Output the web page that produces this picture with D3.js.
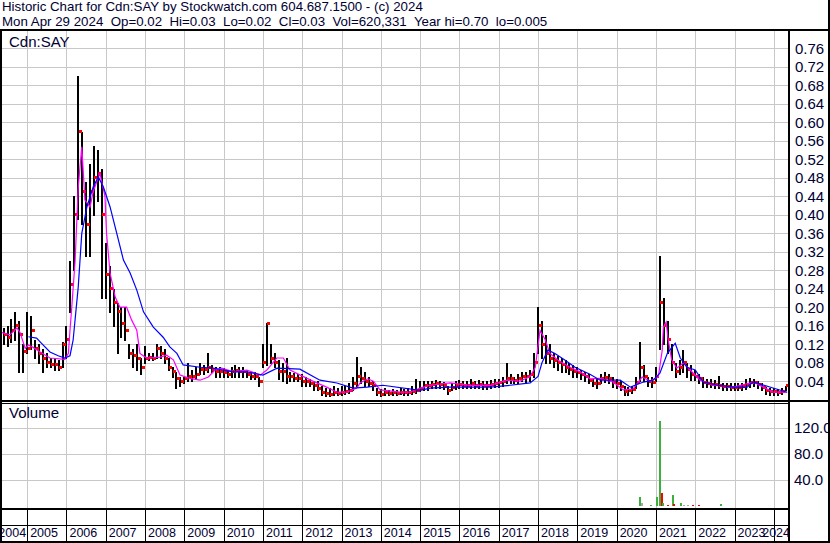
<!DOCTYPE html>
<html>
<head>
<meta charset="utf-8">
<script src="https://cdn.jsdelivr.net/npm/d3@7"></script>
<style>
body{margin:0;background:#fff}
svg{display:block}
text{fill:#000033}
.hdr{font-family:"Liberation Sans",Arial,sans-serif;font-size:13.3px;white-space:pre}
.lbl{font-family:"Liberation Sans Narrow","Arial Narrow","Liberation Sans",sans-serif}
</style>
</head>
<body>
<script>
// chart text
const title1 = "Historic Chart for Cdn:SAY by Stockwatch.com 604.687.1500 - (c) 2024";
const title2 = "Mon Apr 29 2024  Op=0.02  Hi=0.03  Lo=0.02  Cl=0.03  Vol=620,331  Year hi=0.70  lo=0.005";
const symbol = "Cdn:SAY";

// axis ticks
const priceTicks = [0.04,0.08,0.12,0.16,0.20,0.24,0.28,0.32,0.36,0.40,0.44,0.48,0.52,0.56,0.60,0.64,0.68,0.72,0.76];
const volTicks = [40,80,120];           // millions
const volTickLabels = ["40.0 M","80.0 M","120.0 M"];
const years = [2004,2005,2006,2007,2008,2009,2010,2011,2012,2013,2014,2015,2016,2017,2018,2019,2020,2021,2022,2023,2024];

// price samples (decimal year, high, low, close)
const sampleYears = [
  2004.4,2004.5,2004.6,2004.7,2004.8,2004.9,
  2005.0,2005.1,2005.2,2005.3,2005.4,2005.5,2005.6,2005.7,2005.8,2005.9,
  2006.0,2006.1,2006.2,2006.3,2006.4,2006.5,2006.6,2006.7,2006.8,2006.9,
  2007.0,2007.1,2007.2,2007.3,2007.4,2007.5,2007.6,2007.7,2007.8,2007.9,
  2008.0,2008.1,2008.2,2008.3,2008.4,2008.5,2008.6,2008.7,2008.8,2008.9,
  2009.0,2009.1,2009.2,2009.3,2009.4,2009.5,2009.6,2009.7,2009.8,2009.9,
  2010.0,2010.1,2010.2,2010.3,2010.4,2010.5,2010.6,2010.7,2010.8,2010.9,
  2011.0,2011.1,2011.2,2011.3,2011.4,2011.5,2011.6,2011.7,2011.8,2011.9,
  2012.0,2012.1,2012.2,2012.3,2012.4,2012.5,2012.6,2012.7,2012.8,2012.9,
  2013.0,2013.1,2013.2,2013.3,2013.4,2013.5,2013.6,2013.7,2013.8,2013.9,
  2014.0,2014.1,2014.2,2014.3,2014.4,2014.5,2014.6,2014.7,2014.8,2014.9,
  2015.0,2015.1,2015.2,2015.3,2015.4,2015.5,2015.6,2015.7,2015.8,2015.9,
  2016.0,2016.1,2016.2,2016.3,2016.4,2016.5,2016.6,2016.7,2016.8,2016.9,
  2017.0,2017.1,2017.2,2017.3,2017.4,2017.5,2017.6,2017.7,2017.8,2017.9,
  2018.0,2018.1,2018.2,2018.3,2018.4,2018.5,2018.6,2018.7,2018.8,2018.9,
  2019.0,2019.1,2019.2,2019.3,2019.4,2019.5,2019.6,2019.7,2019.8,2019.9,
  2020.0,2020.1,2020.2,2020.3,2020.4,2020.5,2020.6,2020.7,2020.8,2020.9,
  2021.0,2021.1,2021.2,2021.3,2021.4,2021.5,2021.6,2021.7,2021.8,2021.9,
  2022.0,2022.1,2022.2,2022.3,2022.4,2022.5,2022.6,2022.7,2022.8,2022.9,
  2023.0,2023.1,2023.2,2023.3,2023.4,2023.5,2023.6,2023.7,2023.8,2023.9,
  2024.0,2024.1,2024.2,2024.3
];
const highs = [
  .155,.16,.175,.19,.17,.12,
  .19,.18,.13,.12,.11,.10,.09,.09,.085,.125,
  .16,.30,.44,.70,.58,.47,.51,.55,.54,.50,
  .34,.29,.24,.21,.20,.20,.12,.11,.12,.09,
  .115,.10,.10,.12,.115,.11,.09,.07,.06,.05,
  .05,.08,.065,.07,.08,.075,.10,.075,.07,.07,
  .068,.065,.07,.075,.07,.07,.065,.06,.06,.05,
  .12,.165,.12,.10,.085,.08,.09,.06,.057,.055,
  .055,.05,.045,.04,.04,.03,.025,.025,.03,.025,
  .03,.03,.035,.05,.092,.07,.06,.05,.04,.025,
  .022,.025,.02,.022,.02,.025,.022,.025,.03,.045,
  .04,.04,.04,.04,.042,.04,.038,.03,.035,.04,
  .042,.04,.04,.045,.04,.042,.04,.04,.042,.045,
  .045,.05,.08,.055,.05,.055,.06,.06,.065,.10,
  .20,.17,.14,.12,.10,.095,.09,.085,.08,.075,
  .07,.065,.06,.055,.045,.045,.055,.06,.055,.05,
  .045,.04,.03,.028,.03,.05,.125,.075,.05,.05,
  .07,.31,.22,.17,.12,.08,.085,.107,.08,.075,
  .065,.055,.05,.045,.045,.042,.051,.036,.035,.035,
  .035,.035,.035,.045,.046,.045,.04,.035,.027,.025,
  .025,.022,.025,.03
];
const lows = [
  .12,.115,.125,.13,.06,.06,
  .10,.11,.09,.08,.06,.07,.07,.065,.065,.07,
  .09,.19,.28,.39,.38,.31,.31,.40,.43,.22,
  .22,.19,.16,.10,.135,.13,.09,.07,.065,.055,
  .08,.085,.085,.09,.09,.08,.065,.05,.025,.03,
  .035,.04,.04,.045,.055,.055,.06,.06,.05,.05,
  .05,.05,.05,.05,.05,.05,.05,.045,.045,.03,
  .07,.075,.08,.07,.045,.04,.035,.04,.04,.04,
  .03,.03,.03,.02,.02,.01,.008,.008,.01,.01,
  .01,.012,.015,.02,.03,.035,.03,.03,.02,.01,
  .007,.01,.01,.01,.01,.012,.01,.01,.012,.015,
  .018,.02,.02,.025,.025,.025,.022,.012,.02,.022,
  .025,.025,.025,.025,.025,.025,.022,.022,.025,.028,
  .028,.03,.035,.035,.035,.035,.04,.035,.04,.05,
  .10,.09,.08,.08,.07,.065,.06,.06,.055,.05,
  .05,.045,.04,.035,.03,.025,.035,.038,.035,.028,
  .025,.02,.01,.01,.015,.025,.04,.04,.03,.028,
  .04,.11,.12,.10,.065,.05,.055,.06,.05,.042,
  .042,.035,.028,.027,.027,.025,.025,.02,.02,.02,
  .02,.02,.02,.022,.028,.03,.025,.02,.012,.01,
  .01,.01,.012,.02
];
const closes = [
  .14,.135,.15,.16,.14,.105,
  .11,.15,.11,.10,.09,.08,.075,.075,.07,.12,
  .13,.25,.40,.58,.45,.38,.45,.48,.49,.40,
  .27,.24,.21,.19,.165,.15,.10,.095,.09,.07,
  .09,.092,.09,.11,.10,.09,.07,.06,.045,.04,
  .045,.05,.05,.055,.065,.065,.07,.065,.06,.06,
  .058,.055,.06,.062,.06,.06,.055,.05,.05,.04,
  .08,.165,.09,.08,.06,.06,.05,.05,.045,.045,
  .04,.04,.035,.03,.025,.015,.013,.012,.015,.014,
  .015,.018,.02,.035,.05,.045,.04,.035,.03,.015,
  .012,.015,.014,.015,.014,.016,.015,.016,.018,.02,
  .025,.03,.03,.032,.034,.032,.03,.02,.027,.03,
  .032,.03,.03,.035,.03,.032,.03,.03,.033,.035,
  .036,.04,.045,.045,.042,.045,.05,.05,.055,.08,
  .16,.12,.10,.09,.085,.08,.075,.07,.065,.06,
  .058,.055,.05,.042,.035,.035,.045,.048,.045,.038,
  .035,.028,.018,.02,.022,.038,.07,.05,.04,.038,
  .05,.21,.16,.13,.08,.06,.07,.08,.065,.055,
  .05,.045,.038,.035,.033,.032,.03,.028,.028,.027,
  .026,.027,.028,.032,.038,.038,.033,.027,.02,.018,
  .017,.016,.018,.03
];

// short moving average (magenta)
const fastYears = [2004.36,2004.56,2004.74,2004.82,2004.95,2005.03,2005.15,2005.33,2005.58,2005.96,
  2006.05,2006.09,2006.13,2006.22,2006.30,2006.39,2006.47,2006.60,2006.68,2006.85,2006.98,
  2007.02,2007.11,2007.24,2007.36,2007.53,2007.66,2007.79,2007.87,2008.04,2008.38,2008.55,2008.72,2008.89,
  2009.14,2009.40,2009.61,2009.78,2009.95,2010.25,2010.59,2010.93,2011.10,2011.35,2011.52,2011.69,2011.95,
  2012.27,2012.62,2012.88,2013.13,2013.39,2013.47,2013.67,2013.81,2013.98,2014.49,2014.74,2015.00,2015.25,
  2015.76,2016.27,2016.78,2017.21,2017.54,2017.80,2017.93,2018.05,2018.18,2018.30,2018.51,2018.81,
  2019.07,2019.32,2019.58,2019.91,2020.17,2020.42,2020.65,2020.85,2021.06,2021.16,2021.19,2021.26,2021.31,
  2021.40,2021.53,2021.70,2021.87,2022.12,2022.46,2022.97,2023.48,2023.73,2023.99,2024.33];
const fastValues = [.145,.14,.155,.145,.111,.118,.113,.103,.09,.087,
  .10,.15,.194,.30,.46,.547,.432,.417,.45,.49,.44,
  .36,.274,.222,.20,.20,.172,.15,.10,.09,.092,.096,.086,.053,
  .046,.042,.049,.064,.068,.06,.064,.053,.064,.09,.09,.064,.053,
  .04,.027,.016,.016,.025,.036,.045,.04,.021,.016,.016,.025,.031,
  .036,.031,.031,.042,.04,.05,.07,.15,.13,.10,.085,.07,
  .06,.045,.046,.038,.021,.023,.049,.04,.049,.107,.157,.168,.13,
  .086,.068,.079,.064,.042,.031,.027,.038,.027,.016,.016];

// long moving average (blue)
const slowYears = [2005.03,2005.24,2005.33,2005.58,2005.79,2005.96,2006.09,2006.17,2006.30,2006.39,
  2006.52,2006.68,2006.81,2006.94,2007.11,2007.28,2007.45,2007.62,2007.79,2007.96,2008.21,2008.46,
  2008.63,2008.81,2008.97,2009.40,2009.73,2010.24,2010.59,2011.00,2011.36,2011.94,2012.45,2012.88,
  2013.29,2013.65,2014.05,2015.00,2015.25,2015.76,2016.78,2017.29,2017.80,2018.00,2018.10,2018.25,
  2018.43,2018.69,2018.94,2019.32,2019.58,2020.09,2020.35,2020.68,2020.93,2021.10,2021.29,2021.49,
  2021.62,2021.79,2022.00,2022.20,2022.56,2022.97,2023.32,2023.47,2023.98,2024.34];
const slowValues = [.136,.133,.125,.103,.095,.09,.095,.129,.244,.36,
  .417,.46,.482,.46,.417,.36,.302,.274,.237,.19,.157,.135,
  .114,.10,.075,.07,.068,.06,.06,.053,.068,.066,.042,.036,
  .025,.027,.031,.02,.025,.027,.027,.031,.036,.05,.08,.107,
  .10,.085,.07,.055,.042,.042,.027,.038,.042,.057,.10,.122,
  .09,.07,.064,.038,.031,.027,.027,.038,.025,.016];

// volume (millions) and bar colour class
const volYears  = [2008.84,2011.31,2020.59,2020.64,2020.87,2021.02,2021.10,2021.15,2021.19,2021.31,2021.43,2021.47,2021.65,2021.71,2021.82,2021.94,2022.10,2022.65,2024.10];
const volValues = [0.4,0.4,14.3,4,0.8,14.3,131,20.5,4,2,17,3,5,2,1,1,1,3.5,0.7];
const volKinds  = ["up","flat","up","flat","up","up","up","down","up","down","up","down","up","flat","flat","down","down","up","flat"];

const W = 830, H = 543;
const L = 2, R = 788;
const priceTop = 30, priceBot = 399.6;
const volTop = 402, volBot = 506;

const svg = d3.select("body").append("svg")
  .attr("width", W).attr("height", H);

const x = d3.scaleLinear().domain([2004.36, 2024.36]).range([L, R]);
const yP = d3.scaleLinear().domain([0, 0.80]).range([priceBot, priceTop]);
const yV = d3.scaleLinear().domain([0, 160]).range([volBot, volTop]);

const defs = svg.append("defs");
defs.append("clipPath").attr("id", "pclip")
  .append("rect").attr("x", L).attr("y", 31).attr("width", R - L).attr("height", 369);
defs.append("clipPath").attr("id", "aclip")
  .append("rect").attr("x", 790).attr("y", 0).attr("width", 38).attr("height", H);

// header
svg.append("text").attr("class", "hdr").attr("x", 2).attr("y", 10.5).text(title1);
svg.append("text").attr("class", "hdr").attr("x", 2).attr("y", 26).text(title2);

// grid
const grid = svg.append("g").attr("stroke", "#c8c8c8").attr("stroke-width", 1).attr("shape-rendering", "crispEdges");
grid.selectAll(".hp").data(priceTicks).join("line")
  .attr("x1", L).attr("x2", R)
  .attr("y1", d => Math.round(yP(d)) + 0.5).attr("y2", d => Math.round(yP(d)) + 0.5);
grid.selectAll(".hv").data(volTicks).join("line")
  .attr("x1", L).attr("x2", R)
  .attr("y1", d => Math.round(yV(d)) + 0.5).attr("y2", d => Math.round(yV(d)) + 0.5);
const yearLines = years.slice(1);
grid.selectAll(".vp").data(yearLines).join("line")
  .attr("x1", d => Math.round(x(d)) + 0.5).attr("x2", d => Math.round(x(d)) + 0.5)
  .attr("y1", 31).attr("y2", 508);

// panel labels
svg.append("text").attr("class", "lbl").attr("x", 9).attr("y", 46.5)
  .style("font-size", "15px").text(symbol);
svg.append("text").attr("class", "lbl").attr("x", 9).attr("y", 418)
  .style("font-size", "15px").text("Volume");

// price bars
const plot = svg.append("g").attr("clip-path", "url(#pclip)");
const idx = d3.range(sampleYears.length);
plot.append("g").attr("stroke", "#000").attr("stroke-width", 2).attr("shape-rendering", "crispEdges")
  .selectAll("line").data(idx).join("line")
  .attr("x1", i => x(sampleYears[i])).attr("x2", i => x(sampleYears[i]))
  .attr("y1", i => yP(highs[i])).attr("y2", i => yP(lows[i]) + 1);
plot.append("g").attr("fill", "#ff0000").attr("shape-rendering", "crispEdges")
  .selectAll("rect").data(idx).join("rect")
  .attr("x", i => x(sampleYears[i]) + 0.5).attr("y", i => yP(closes[i]) - 1.5)
  .attr("width", 3).attr("height", 3);

// moving averages
const fastLine = d3.line().x((d, i) => x(fastYears[i])).y(d => yP(d));
const slowLine = d3.line().x((d, i) => x(slowYears[i])).y(d => yP(d));
plot.append("path").datum(fastValues)
  .attr("fill", "none").attr("stroke", "#ff00ff").attr("stroke-width", 1.2).attr("d", fastLine);
plot.append("path").datum(slowValues)
  .attr("fill", "none").attr("stroke", "#0000ff").attr("stroke-width", 1.2).attr("d", slowLine);

// volume bars
const volColor = {up: "#3cb03c", down: "#ff0000", flat: "#a8a8a8"};
svg.append("g").attr("shape-rendering", "crispEdges")
  .selectAll("rect").data(d3.range(volYears.length)).join("rect")
  .attr("x", i => x(volYears[i]) - 1).attr("width", 2)
  .attr("y", i => yV(volValues[i])).attr("height", i => yV(0) - yV(volValues[i]))
  .attr("fill", i => volColor[volKinds[i]]);

// frame
const frame = svg.append("g").attr("fill", "#000").attr("shape-rendering", "crispEdges");
frame.append("rect").attr("x", 0).attr("y", 29).attr("width", W).attr("height", 2);
frame.append("rect").attr("x", 0).attr("y", 30).attr("width", 2).attr("height", H - 30);
frame.append("rect").attr("x", R).attr("y", 30).attr("width", 2).attr("height", H - 30);
frame.append("rect").attr("x", W - 2).attr("y", 0).attr("width", 2).attr("height", H);
frame.append("rect").attr("x", 0).attr("y", 400).attr("width", W).attr("height", 1.5);
frame.append("rect").attr("x", 0).attr("y", 402.5).attr("width", R).attr("height", 1);
frame.append("rect").attr("x", 0).attr("y", 508).attr("width", R + 2).attr("height", 2);
frame.append("rect").attr("x", 0).attr("y", 525).attr("width", R + 2).attr("height", 1);
frame.append("rect").attr("x", 0).attr("y", H - 2).attr("width", W).attr("height", 2);

// year ticks below volume
svg.append("g").attr("stroke", "#000").attr("shape-rendering", "crispEdges")
  .selectAll("line").data(yearLines).join("line")
  .attr("x1", d => Math.round(x(d)) + 0.5).attr("x2", d => Math.round(x(d)) + 0.5)
  .attr("y1", 510).attr("y2", 541);

// year labels
const yl = svg.append("g").attr("class", "lbl").style("font-size", "12.5px");
years.forEach(yr => {
  const t = yl.append("text").attr("y", 537).text(String(yr));
  if (yr === years[0]) {
    t.attr("x", x(yr + 1) - 1).attr("text-anchor", "end");
  } else {
    let px = x(yr) + 3;
    const w = t.node().getComputedTextLength();
    if (px + w > R + 2) px = R + 2 - w;
    t.attr("x", px);
  }
});

// right axes
const ax = svg.append("g").attr("class", "lbl").attr("clip-path", "url(#aclip)");
ax.selectAll(".pl").data(priceTicks).join("text")
  .attr("x", 795).attr("y", d => yP(d)).attr("dy", "0.36em")
  .style("font-size", "15px").text(d => d.toFixed(2));
ax.selectAll(".vl").data(volTicks).join("text")
  .attr("x", 794).attr("y", d => yV(d)).attr("dy", "0.36em")
  .style("font-size", "15px").text((d, i) => volTickLabels[i]);
</script>
</body>
</html>
